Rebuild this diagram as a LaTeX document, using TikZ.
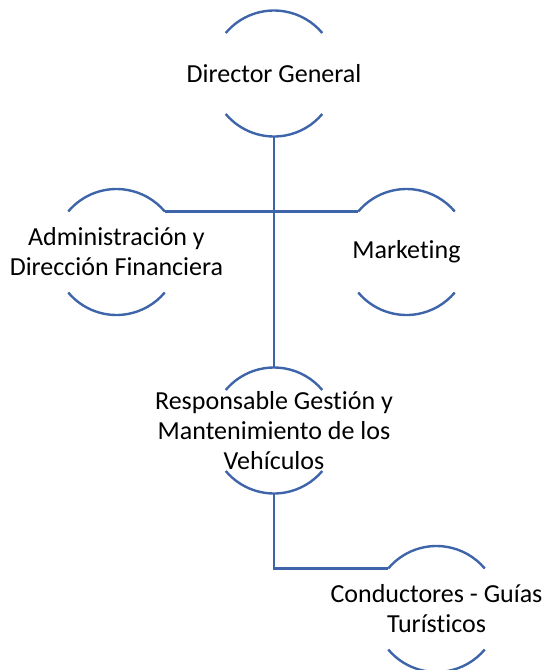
\documentclass[tikz,border=0pt]{standalone}
\usepackage{fontspec}
\setmainfont{Carlito}[Ligatures=NoCommon]
\definecolor{linkblue}{RGB}{62,100,170}
\begin{document}
\begin{tikzpicture}[x=1pt,y=-1pt,
  ring/.style={circle,minimum size=126pt,inner sep=0pt,outer sep=0pt},
  label/.style={align=center,font=\fontsize{26}{30}\selectfont,inner sep=0pt},
  line/.style={draw=linkblue,line width=2.4pt},
  arcs/.style={line,line cap=butt}]
  \useasboundingbox (0,0) rectangle (547,670);

  % circle frames (only the top and bottom arcs are drawn)
  \node[ring] (dg)   at (274,73.5)  {};
  \node[ring] (adm)  at (116.5,252) {};
  \node[ring] (mkt)  at (406.5,252) {};
  \node[ring] (resp) at (274,430.5) {};
  \node[ring] (cond) at (436.5,609) {};

  \foreach \n in {dg,adm,mkt,resp,cond}{
    \draw[arcs] (\n.140) arc[start angle=140,end angle=40,radius=63pt];
    \draw[arcs] (\n.220) arc[start angle=220,end angle=320,radius=63pt];
  }

  % labels
  \node[label] (dgt)   at (dg)   {Director General};
  \node[label] (admt)  at (adm)  {Administración y\\Dirección Financiera};
  \node[label] (mktt)  at (mkt)  {Marketing};
  \node[label] (respt) at (resp) {Responsable Gestión y\\Mantenimiento de los\\Vehículos};
  \node[label] (condt) at (cond) {Conductores - Guías\\Turísticos};

  % connectors
  \draw[line] (dg.south) -- (resp.north);
  \draw[line] (adm.40) -- (mkt.140);
  \draw[line] (resp.south) |- (cond.140);
\end{tikzpicture}
\end{document}
